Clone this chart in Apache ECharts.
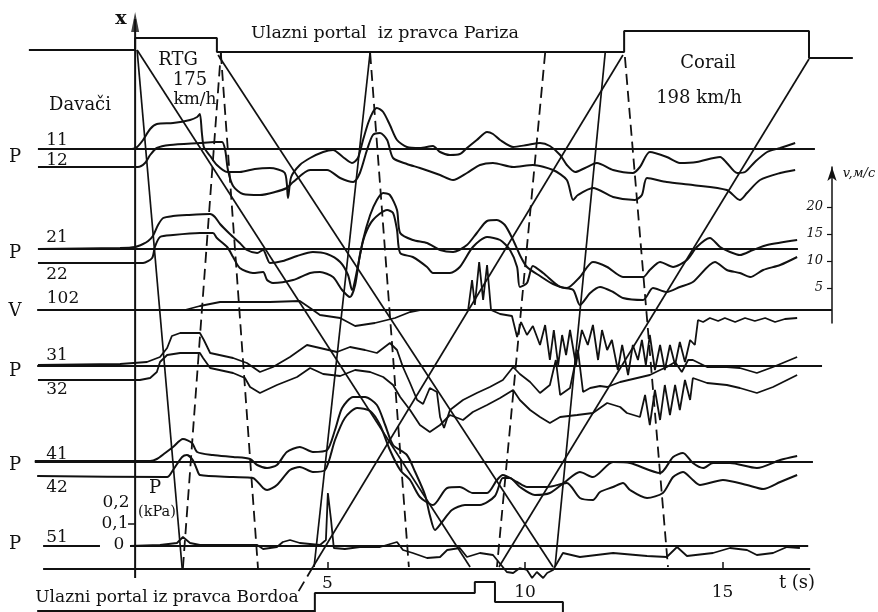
<!DOCTYPE html>
<html><head><meta charset="utf-8">
<script src="https://cdn.jsdelivr.net/npm/echarts@6/dist/echarts.min.js"></script>
<style>html,body{margin:0;padding:0;background:#fff}#c{width:878px;height:612px}</style>
</head><body><div id="c"></div>
<script>
// ---- tick labels ----
const timeTickValues = [5, 10, 15];
const speedTickValues = [5, 10, 15, 20];
const kpaTickLabels = ['0', '0,1', '0,2'];

// ---- frame (portals, axes, reference lines) : [t (s), x] ----
const portalParis = [[-2.56,519],[0.13,519],[0.13,531],[2.20,531],[2.20,517],[12.51,517],[12.51,538],[17.19,538],[17.19,511],[18.30,511]];
const portalBordoa = [[4.68,-43],[4.68,-24],[8.73,-24],[8.73,-13],[9.24,-13],[9.24,-33],[10.96,-33],[10.96,-43]];
const bordoaBase = [[-2.35,-42],[4.68,-42]];
const timeAxis = [[-2.20,0],[17.22,0]];
const positionAxis = [[0.13,-9],[0.13,550]];
const positionArrow = [[0.13,547]];
const kpaTick = [[-0.05,45],[0.12,45]];
const baseLines = [
  [[-2.33,420],[17.34,420]],
  [[-2.33,320],[16.91,320]],
  [[-2.35,259],[17.77,259]],
  [[-2.35,203],[17.52,203]],
  [[-2.41,107],[17.29,107]],
  [[-2.20,23],[-0.76,23]],
  [[0.00,23],[17.17,23]]
];

// ---- trajectories & pressure waves ----
const solidWaves = [
  [[0.18,519],[8.61,2]],
  [[2.23,514],[10.71,2]],
  [[12.48,514],[4.63,2]],
  [[17.19,510],[9.34,2]],
  [[0.18,519],[1.32,1]],
  [[6.08,517],[4.66,2]],
  [[12.03,516],[10.76,2]]
];
const dashedWaves = [
  [[4.63,2],[4.18,-28]],
  [[1.34,1],[2.30,516]],
  [[2.30,516],[3.24,1]],
  [[6.08,516],[7.06,2]],
  [[10.51,516],[9.29,2]],
  [[12.53,512],[13.62,2]]
];

// ---- recorded traces ----
const p11 = [[-2.33,420],[0.05,420],[0.18,422],[0.33,429],[0.51,440],[0.68,445],[1.09,446],[1.52,449],[1.70,452],[1.77,455],[1.82,436],[1.87,422],[2.03,413],[2.20,404],[2.46,397],[2.78,397],[3.16,400],[3.54,401],[3.92,396],[4.00,371],[4.08,392],[4.30,404],[4.56,411],[4.89,417],[5.14,419],[5.39,412],[5.62,406],[5.77,411],[5.90,429],[6.03,446],[6.15,457],[6.25,461],[6.41,457],[6.58,444],[6.76,429],[7.01,422],[7.34,421],[7.67,423],[7.85,417],[8.10,414],[8.35,415],[8.53,421],[8.78,429],[9.04,437],[9.19,435],[9.37,429],[9.70,422],[10.05,424],[10.38,426],[10.63,423],[10.89,414],[11.06,404],[11.27,397],[11.52,401],[11.82,406],[12.23,399],[12.73,396],[12.91,402],[13.16,417],[13.59,412],[13.92,406],[14.35,407],[14.94,412],[15.11,406],[15.37,396],[15.57,397],[15.82,407],[16.13,417],[16.46,421],[16.84,426]];
const p12 = [[-2.33,402],[0.20,402],[0.38,406],[0.51,414],[0.68,421],[1.01,424],[1.77,426],[2.15,427],[2.33,427],[2.41,419],[2.48,399],[2.61,383],[2.86,375],[3.29,374],[3.67,377],[3.97,381],[4.13,387],[4.56,399],[4.99,399],[5.32,391],[5.65,387],[5.82,396],[6.00,419],[6.15,434],[6.33,436],[6.51,429],[6.66,411],[7.01,405],[7.34,401],[7.85,394],[8.18,389],[8.53,396],[8.86,404],[9.19,406],[9.70,402],[10.20,404],[10.71,399],[11.06,389],[11.22,369],[11.34,374],[11.72,381],[12.23,372],[12.78,369],[12.96,374],[13.09,391],[13.59,387],[14.25,384],[15.11,379],[15.44,369],[15.62,376],[15.95,389],[16.46,396],[16.84,399]];
const p21 = [[-2.33,320],[-0.25,321],[0.13,322],[0.33,325],[0.46,328],[0.58,333],[0.71,344],[0.84,351],[1.09,353],[1.44,354],[2.03,355],[2.15,352],[2.28,345],[2.53,335],[2.78,326],[2.96,319],[3.22,316],[3.37,319],[3.47,311],[3.54,306],[3.87,308],[4.23,313],[4.63,317],[4.99,315],[5.32,307],[5.52,294],[5.62,279],[5.75,299],[5.90,329],[6.08,354],[6.25,369],[6.41,376],[6.58,374],[6.76,359],[6.84,336],[7.16,329],[7.52,326],[7.85,319],[8.18,317],[8.53,324],[8.78,336],[9.04,348],[9.29,349],[9.49,344],[9.70,329],[9.87,314],[10.05,302],[10.38,293],[10.71,285],[11.06,281],[11.39,292],[11.72,307],[12.08,302],[12.48,292],[12.99,292],[13.16,299],[13.42,307],[13.75,302],[14.10,309],[14.35,322],[14.68,331],[14.94,322],[15.19,317],[15.44,314],[15.77,319],[16.13,324],[16.89,329]];
const p22 = [[-2.33,306],[0.33,306],[0.56,311],[0.63,322],[0.76,332],[1.09,334],[1.77,336],[2.10,336],[2.20,331],[2.46,322],[2.61,312],[2.78,301],[3.11,296],[3.37,297],[3.47,289],[3.62,286],[4.13,289],[4.56,296],[4.81,297],[5.14,292],[5.37,279],[5.57,272],[5.70,284],[5.82,314],[5.95,334],[6.15,349],[6.51,359],[6.66,356],[6.76,339],[6.84,316],[7.16,312],[7.52,302],[7.67,296],[8.10,296],[8.35,302],[8.68,322],[9.04,332],[9.37,329],[9.62,319],[9.80,302],[9.87,282],[10.05,286],[10.20,303],[10.46,296],[10.89,282],[11.22,279],[11.39,264],[11.65,276],[11.90,282],[12.23,277],[12.48,271],[12.99,269],[13.24,281],[13.59,277],[13.92,282],[14.25,287],[14.81,307],[15.11,299],[15.44,296],[15.70,292],[16.03,299],[16.46,304],[16.89,312]];
const v102 = [[-2.33,259],[1.39,259],[1.77,263],[2.28,267],[2.78,267],[3.54,267],[4.30,268],[4.56,261],[4.81,254],[5.32,251],[5.70,243],[6.20,246],[6.71,251],[7.09,257],[7.34,259],[8.56,259],[8.66,289],[8.73,264],[8.84,307],[8.94,269],[9.04,304],[9.14,259],[9.37,255],[9.67,253],[9.80,232],[9.90,247],[10.05,234],[10.20,243],[10.38,224],[10.51,244],[10.63,209],[10.73,239],[10.84,204],[10.94,234],[11.04,214],[11.14,239],[11.29,204],[11.44,239],[11.59,224],[11.72,244],[11.85,209],[11.95,239],[12.08,219],[12.20,229],[12.35,199],[12.46,224],[12.61,194],[12.73,224],[12.86,209],[12.96,229],[13.06,204],[13.16,234],[13.29,199],[13.42,224],[13.54,199],[13.67,224],[13.80,204],[13.92,227],[14.05,207],[14.18,229],[14.30,224],[14.38,249],[14.51,247],[14.68,251],[14.89,248],[15.06,251],[15.32,247],[15.57,251],[15.82,248],[16.08,251],[16.33,247],[16.58,250],[16.89,251]];
const p31 = [[-2.33,204],[-0.25,205],[0.43,207],[0.76,212],[0.94,221],[1.06,233],[1.27,236],[1.77,236],[1.87,229],[2.03,216],[2.61,211],[2.96,206],[3.29,197],[3.62,202],[4.05,212],[4.48,224],[4.81,221],[5.24,217],[5.57,222],[5.95,219],[6.25,216],[6.58,226],[6.76,219],[6.91,202],[7.09,186],[7.27,169],[7.42,165],[7.59,181],[7.77,177],[7.85,152],[7.95,141],[8.10,159],[8.43,169],[8.78,176],[9.11,182],[9.44,189],[9.70,202],[9.87,195],[10.13,187],[10.38,176],[10.63,184],[10.78,209],[10.89,174],[11.14,181],[11.34,219],[11.47,177],[11.65,181],[11.90,183],[12.08,182],[12.41,187],[12.84,191],[13.16,194],[13.42,199],[13.59,202],[13.80,207],[13.97,197],[14.13,209],[14.25,209],[14.61,202],[15.11,202],[15.44,201],[15.87,196],[16.28,202],[16.89,212]];
const p32 = [[-2.33,189],[0.25,189],[0.51,191],[0.68,197],[0.76,207],[0.94,214],[1.27,216],[1.77,216],[1.85,211],[2.03,201],[2.61,196],[2.91,191],[3.04,182],[3.29,176],[3.72,184],[4.23,192],[4.56,201],[4.89,195],[5.32,193],[5.70,199],[6.08,197],[6.41,192],[6.66,184],[6.84,172],[7.09,159],[7.34,144],[7.59,137],[7.85,144],[8.10,154],[8.43,149],[8.68,157],[9.04,164],[9.37,171],[9.70,179],[9.87,169],[10.13,159],[10.38,152],[10.63,146],[10.89,152],[11.32,154],[11.72,156],[12.08,166],[12.41,162],[12.58,156],[12.91,152],[13.04,174],[13.16,144],[13.29,179],[13.42,149],[13.54,184],[13.67,154],[13.80,184],[13.92,159],[14.05,189],[14.18,169],[14.25,191],[14.61,186],[15.11,184],[15.44,181],[15.87,176],[16.28,182],[16.89,194]];
const p41 = [[-2.41,108],[0.51,108],[0.68,110],[0.89,116],[1.09,122],[1.34,130],[1.57,126],[1.70,117],[2.10,114],[2.61,112],[3.04,110],[3.22,104],[3.47,101],[3.72,104],[3.97,117],[4.30,122],[4.63,117],[4.99,119],[5.19,139],[5.37,161],[5.65,172],[5.95,172],[6.25,164],[6.46,144],[6.66,124],[7.01,114],[7.22,97],[7.47,74],[7.59,54],[7.72,39],[7.90,47],[8.15,59],[8.48,64],[8.86,64],[9.24,73],[9.44,91],[9.62,91],[9.87,82],[10.25,74],[10.63,76],[11.01,87],[11.39,97],[11.72,92],[12.23,107],[12.66,106],[13.42,96],[13.75,112],[14.00,116],[14.25,106],[14.51,101],[14.76,106],[15.19,106],[15.87,101],[16.46,109],[16.89,113]];
const p42 = [[-2.35,93],[0.94,92],[1.09,99],[1.32,112],[1.44,114],[1.59,109],[1.70,99],[1.77,94],[2.61,92],[3.11,91],[3.37,81],[3.47,79],[3.72,84],[4.05,99],[4.30,102],[4.63,97],[4.94,99],[5.19,129],[5.44,151],[5.75,161],[6.08,158],[6.33,144],[6.58,119],[6.84,99],[7.09,89],[7.34,72],[7.67,64],[8.03,81],[8.35,82],[8.68,76],[9.04,76],[9.29,89],[9.44,94],[9.80,87],[10.05,82],[10.56,82],[11.06,86],[11.39,71],[11.72,69],[11.90,77],[12.23,82],[12.48,86],[12.66,79],[13.09,71],[13.49,76],[13.75,92],[14.00,97],[14.25,89],[14.43,84],[15.01,89],[15.62,84],[16.03,80],[16.46,87],[16.89,94]];
const p51 = [[0.00,23],[0.76,24],[1.19,26],[1.34,32],[1.52,26],[1.77,24],[3.22,24],[3.37,20],[3.72,22],[3.87,27],[4.05,29],[4.30,26],[4.81,24],[4.96,29],[5.01,76],[5.09,49],[5.16,21],[5.44,20],[5.82,22],[6.33,22],[6.76,27],[6.91,19],[7.16,16],[7.52,11],[7.85,12],[8.03,19],[8.35,21],[8.53,12],[8.86,16],[9.19,14],[9.54,-3],[9.70,-4],[9.87,1],[10.05,-1],[10.18,-9],[10.30,-3],[10.46,-9],[10.56,-4],[10.71,-1],[10.96,16],[11.39,12],[12.23,16],[13.09,13],[13.59,12],[13.85,22],[14.10,13],[14.76,16],[15.19,21],[15.62,19],[15.87,14],[16.28,16],[16.63,22],[16.96,21]];

// ---- build ----
const ink = '#111111';
const SERIF = '"DejaVu Serif","Liberation Serif",serif';
function line(data, width, extra) {
  return Object.assign({
    type: 'line', data: data, xAxisIndex: 0, yAxisIndex: 0,
    symbol: 'none', showSymbol: false, clip: false, silent: true, animation: false,
    lineStyle: { color: ink, width: width }
  }, extra || {});
}
const series = [];
series.push(line(portalParis, 2));
series.push(line(portalBordoa, 2));
series.push(line(bordoaBase, 2));
series.push(line(timeAxis, 2.2));
series.push(line(positionAxis, 2));
series.push(line(kpaTick, 1.5));
baseLines.forEach(s => series.push(line(s, 2.2)));
solidWaves.forEach(s => series.push(line(s, 1.7)));
dashedWaves.forEach(s => series.push(line(s, 1.8, { lineStyle: { color: ink, width: 1.8, type: [11, 6] } })));
[p11, p12, p21, p22, p41, p42].forEach(s => series.push(line(s, 2, { smooth: 0.25 })));
[v102, p31, p32, p51].forEach(s => series.push(line(s, 1.8)));
series.push({ type: 'scatter', data: positionArrow, symbol: 'triangle', symbolSize: [8, 20],
  itemStyle: { color: ink }, silent: true, animation: false, xAxisIndex: 0, yAxisIndex: 0 });

function txt(x, y, s, size, extra) {
  return { type: 'text', x: x, y: y, silent: true,
    style: Object.assign({ text: s, fontSize: size, fontFamily: SERIF, fill: ink,
      align: 'center', verticalAlign: 'middle', textAlign: 'center', textVerticalAlign: 'middle' }, extra || {}) };
}
const labels = [
  txt(121, 19, 'x', 19, { fontWeight: 'bold' }),
  txt(385, 33, 'Ulazni portal  iz pravca Pariza', 17.5),
  txt(178, 60, 'RTG', 18), txt(190, 80, '175', 18), txt(195, 100, 'km/h', 17),
  txt(80, 105, 'Davači', 18),
  txt(708, 63, 'Corail', 18), txt(699, 98, '198 km/h', 18),
  txt(57, 141, '11', 17), txt(15, 157, 'P', 18), txt(57, 161, '12', 17),
  txt(57, 238, '21', 17), txt(15, 253, 'P', 18), txt(57, 275, '22', 17),
  txt(63, 299, '102', 17), txt(15, 311, 'V', 18),
  txt(57, 356, '31', 17), txt(15, 371, 'P', 18), txt(57, 390, '32', 17),
  txt(57, 455, '41', 17), txt(15, 465, 'P', 18), txt(57, 488, '42', 17),
  txt(155, 488, 'P', 18), txt(116, 503, kpaTickLabels[2], 17), txt(157, 512, '(kPa)', 14.5),
  txt(115, 524, kpaTickLabels[1], 17), txt(119, 545, kpaTickLabels[0], 17),
  txt(57, 538, '51', 17), txt(15, 544, 'P', 18),
  txt(797, 583, 't (s)', 18),
  txt(167, 598, 'Ulazni portal iz pravca Bordoa', 17),
  txt(859, 174, 'v,м/с', 13, { fontStyle: 'italic' })
];

const chart = echarts.init(document.getElementById('c'), null, { renderer: 'canvas' });
chart.setOption({
  animation: false,
  backgroundColor: '#ffffff',
  grid: [
    { left: 0, right: 0, top: 0, bottom: 43 },
    { left: 832, top: 167, width: 1, height: 156 }
  ],
  xAxis: [
    { gridIndex: 0, type: 'value', min: -3.291, max: 18.937,
      axisLine: { show: false, onZero: false }, splitLine: { show: false },
      axisTick: { show: true, inside: true, length: 7, customValues: timeTickValues, lineStyle: { color: ink, width: 1.5 } },
      axisLabel: { customValues: timeTickValues, margin: 6, color: ink, fontSize: 17, fontFamily: SERIF,
        formatter: v => (v === 5 ? '{a|' + v + '}' : '{b|' + v + '}'),
        rich: { a: { fontSize: 17, fontFamily: SERIF, color: ink }, b: { fontSize: 17, fontFamily: SERIF, color: ink, padding: [9, 0, 0, 0] } } } },
    { gridIndex: 1, type: 'value', min: 0, max: 1, show: false }
  ],
  yAxis: [
    { gridIndex: 0, type: 'value', min: 0, max: 569, show: false },
    { gridIndex: 1, type: 'value', min: -1.5, max: 27.4, position: 'left',
      axisLine: { show: true, onZero: false, symbol: ['none', 'arrow'], symbolSize: [7, 14], lineStyle: { color: ink, width: 1.5 } },
      axisTick: { show: true, length: 5, customValues: speedTickValues, lineStyle: { color: ink, width: 1.2 } },
      axisLabel: { customValues: speedTickValues, margin: 9, color: ink, fontSize: 13, fontStyle: 'italic', fontFamily: SERIF },
      splitLine: { show: false } }
  ],
  series: series,
  graphic: labels
});
</script></body></html>
